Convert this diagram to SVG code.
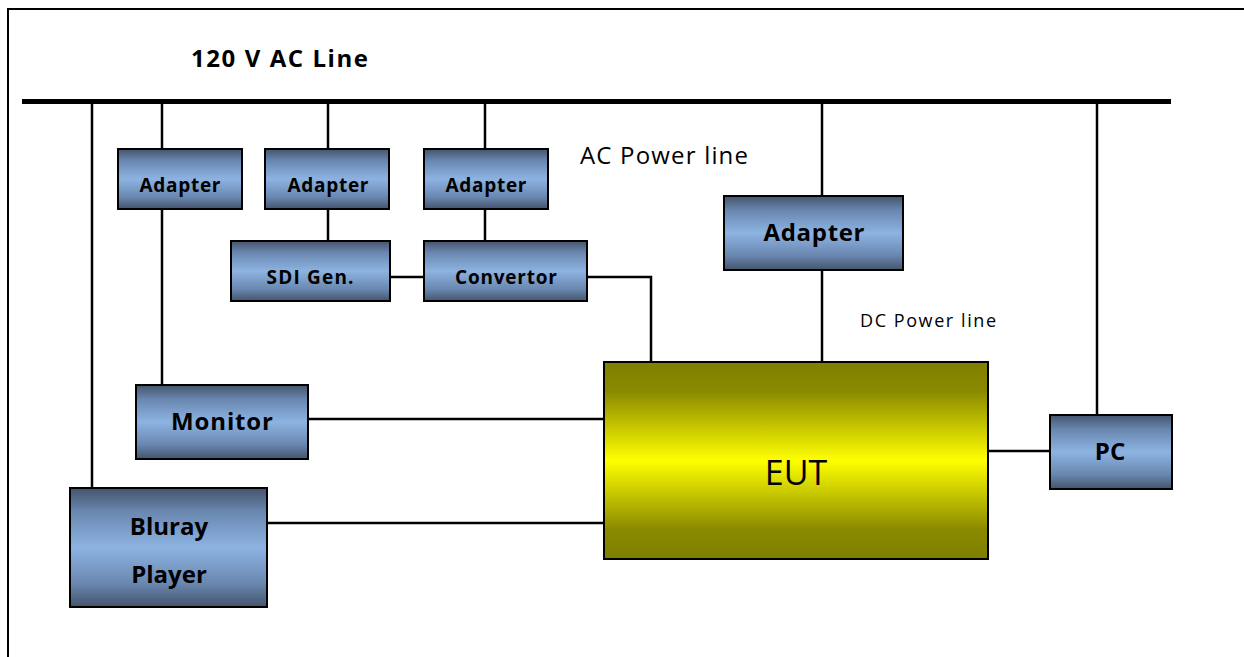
<svg xmlns="http://www.w3.org/2000/svg" width="1244" height="657" viewBox="0 0 1244 657">
<defs>
<linearGradient id="gb" x1="0" y1="0" x2="0" y2="1">
<stop offset="0" stop-color="#44546c"/>
<stop offset="0.2" stop-color="#6a88b0"/>
<stop offset="0.5" stop-color="#8db3e2"/>
<stop offset="0.8" stop-color="#6a88b0"/>
<stop offset="1" stop-color="#44546c"/>
</linearGradient>
<linearGradient id="gy" x1="0" y1="0" x2="0" y2="1">
<stop offset="0" stop-color="#7f7f00"/>
<stop offset="0.15" stop-color="#8a8a00"/>
<stop offset="0.5" stop-color="#ffff00"/>
<stop offset="0.85" stop-color="#8a8a00"/>
<stop offset="1" stop-color="#7f7f00"/>
</linearGradient>
</defs>
<style>
.b{fill:url(#gb);stroke:#000;stroke-width:2}
.y{fill:url(#gy);stroke:#000;stroke-width:2}
.t{font-family:"Open Sans","Noto Sans",sans-serif;font-weight:bold;fill:#000;text-anchor:middle}
.c line,.c polyline{stroke:#000;stroke-width:2.5;fill:none}
.l{font-family:"Open Sans","Noto Sans",sans-serif;fill:#000}
</style>
<rect width="1244" height="657" fill="#fff"/>
<rect x="8" y="9" width="1250" height="660" fill="none" stroke="#000" stroke-width="2"/>
<text class="l" x="191" y="67" font-size="24" font-weight="bold" textLength="177" lengthAdjust="spacing">120 V AC Line</text>
<text class="l" x="580" y="164" font-size="24" textLength="168" lengthAdjust="spacing">AC Power line</text>
<text class="l" x="860" y="327" font-size="18" textLength="136" lengthAdjust="spacing">DC Power line</text>
<g class="c">
<line x1="22" y1="101.5" x2="1171" y2="101.5" style="stroke-width:5"/>
<line x1="92" y1="101" x2="92" y2="488"/>
<line x1="162" y1="101" x2="162" y2="149"/>
<line x1="162" y1="209" x2="162" y2="385"/>
<line x1="328" y1="101" x2="328" y2="149"/>
<line x1="328" y1="209" x2="328" y2="241"/>
<line x1="485" y1="101" x2="485" y2="149"/>
<line x1="485" y1="209" x2="485" y2="241"/>
<line x1="822" y1="101" x2="822" y2="196"/>
<line x1="822" y1="270" x2="822" y2="362"/>
<line x1="1097" y1="101" x2="1097" y2="415"/>
<line x1="390" y1="277" x2="424" y2="277"/>
<polyline points="587,277 651,277 651,362"/>
<line x1="308" y1="419" x2="604" y2="419"/>
<line x1="267" y1="523" x2="604" y2="523"/>
<line x1="988" y1="451" x2="1050" y2="451"/>
</g>
<g id="adapter1"><rect class="b" x="118" y="149" width="124" height="60"/><text class="t" x="180" y="192" font-size="19" textLength="81" lengthAdjust="spacing">Adapter</text></g>
<g id="adapter2"><rect class="b" x="265" y="149" width="124" height="60"/><text class="t" x="328" y="192" font-size="19" textLength="81" lengthAdjust="spacing">Adapter</text></g>
<g id="adapter3"><rect class="b" x="424" y="149" width="124" height="60"/><text class="t" x="486" y="192" font-size="19" textLength="81" lengthAdjust="spacing">Adapter</text></g>
<g id="sdigen"><rect class="b" x="231" y="241" width="159" height="60"/><text class="t" x="310" y="284" font-size="19" textLength="87" lengthAdjust="spacing">SDI Gen.</text></g>
<g id="convertor"><rect class="b" x="424" y="241" width="163" height="60"/><text class="t" x="506" y="284" font-size="19" textLength="102" lengthAdjust="spacing">Convertor</text></g>
<g id="adapter4"><rect class="b" x="724" y="196" width="179" height="74"/><text class="t" x="814" y="241" font-size="24" textLength="101" lengthAdjust="spacing">Adapter</text></g>
<g id="eut"><rect class="y" x="604" y="362" width="384" height="197"/><text class="l" x="796" y="485" font-size="34" text-anchor="middle">EUT</text></g>
<g id="monitor"><rect class="b" x="136" y="385" width="172" height="74"/><text class="t" x="222" y="430" font-size="24" textLength="102" lengthAdjust="spacing">Monitor</text></g>
<g id="bluray"><rect class="b" x="70" y="488" width="197" height="119"/><text class="t" x="169" y="535" font-size="24">Bluray</text><text class="t" x="169" y="583" font-size="24">Player</text></g>
<g id="pc"><rect class="b" x="1050" y="415" width="122" height="74"/><text class="t" x="1110" y="460" font-size="24">PC</text></g>
</svg>
